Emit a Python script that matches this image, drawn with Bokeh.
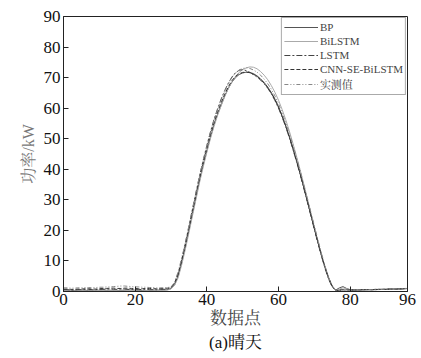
from bokeh.plotting import figure
from bokeh.models import Legend, LegendItem, FixedTicker, Range1d, Title
from bokeh.embed import file_html
from bokeh.resources import INLINE

x = list(range(0, 97))

bp = [0.5,0.4,0.4,0.3,0.3,0.4,0.4,0.3,0.3,0.4,0.4,0.5,0.4,0.4,0.3,0.3,0.4,0.4,0.5,0.5,0.4,0.4,0.3,0.3,0.4,0.4,0.4,0.5,0.5,0.6,
      1.0,2.2,5.0,9.5,14.5,20,25.5,31,36.5,41.5,46,50.5,54.5,58,61,64,66.5,68.5,70,71,71.5,71.8,71.7,71.3,70.6,69.6,68.4,66.9,65.1,63,60.5,57.6,54.4,50.9,47.1,43.1,38.9,34.5,30,25.4,20.8,16.3,12,8,4.5,1.8,0.5,
      1.2,1.6,1.0,0.6,0.5,0.5,0.5,0.6,0.6,0.6,0.6,0.7,0.7,0.7,0.8,0.8,0.8,0.9,0.9,1.0]

bilstm = [0.3,0.3,0.2,0.2,0.3,0.3,0.2,0.2,0.3,0.3,0.3,0.2,0.2,0.3,0.3,0.3,0.2,0.2,0.3,0.3,0.3,0.2,0.2,0.3,0.3,0.3,0.3,0.4,0.4,0.5,
          0.8,2.0,4.5,8.8,13.8,19.2,24.8,30.3,35.8,40.8,45.5,50,54,57.6,60.8,63.8,66.4,68.6,70.4,71.7,72.6,73.2,73.5,73.4,72.9,72,70.8,69.3,67.4,65.2,62.6,59.6,56.3,52.6,48.6,44.4,40,35.4,30.7,25.9,21.1,16.4,11.9,7.8,4.2,1.6,0.4,
          0.8,1.2,0.9,0.6,0.5,0.5,0.5,0.5,0.6,0.6,0.6,0.6,0.7,0.7,0.7,0.8,0.8,0.8,0.9,0.9]

lstm = [0.6,0.6,0.5,0.5,0.6,0.6,0.7,0.7,0.6,0.6,0.7,0.7,0.8,0.8,0.7,0.7,0.8,0.8,0.7,0.7,0.6,0.6,0.7,0.7,0.6,0.6,0.6,0.7,0.7,0.8,
        1.2,2.8,6.0,10.5,15.8,21.3,27,32.6,38,43,47.8,52.2,56.3,59.8,63,65.8,68.2,70.2,71.6,72.4,72.6,72.3,71.7,71,70.2,69.2,68,66.5,64.7,62.5,60,57.1,53.9,50.4,46.6,42.6,38.4,34,29.5,24.9,20.3,15.8,11.5,7.5,4,1.4,0.3,
        0.4,0.5,0.5,0.5,0.5,0.5,0.6,0.6,0.6,0.6,0.7,0.7,0.7,0.7,0.8,0.8,0.8,0.9,0.9,1.0]

cnn_se_bilstm = [0.8,0.8,0.7,0.7,0.8,0.8,0.9,0.9,0.8,0.8,0.9,1.0,1.0,1.1,1.1,1.0,1.0,1.1,1.1,1.0,1.0,0.9,0.9,1.0,1.0,0.9,0.9,1.0,1.0,1.1,
                 1.4,2.6,5.6,10.2,15.2,20.6,26.2,31.8,37.2,42.2,46.8,51.2,55.2,58.7,61.8,64.6,67,69,70.4,71.3,71.7,71.8,71.6,71.1,70.4,69.4,68.2,66.7,64.9,62.8,60.3,57.4,54.2,50.7,46.9,42.9,38.7,34.3,29.8,25.2,20.6,16.1,11.8,7.8,4.3,1.7,0.4,
                 0.5,0.6,0.6,0.5,0.5,0.5,0.6,0.6,0.6,0.6,0.6,0.7,0.7,0.7,0.8,0.8,0.8,0.8,0.9,1.0]

actual = [1.2,1.2,1.1,1.1,1.2,1.2,1.3,1.3,1.2,1.3,1.4,1.4,1.5,1.5,1.6,1.7,1.8,1.8,1.7,1.6,1.5,1.5,1.4,1.4,1.3,1.3,1.2,1.2,1.2,1.3,
          1.5,3,6.5,11,16,21.5,27,32.5,38,43,47.5,52,56,59.5,62.5,65.5,68,70,71.5,72.5,73,73.2,73,72.5,71.8,70.8,69.5,68,66.2,64,61.5,58.5,55.3,51.8,48,44,39.8,35.3,30.8,26.2,21.6,17,12.5,8.3,4.6,1.8,0.4,
          0.3,0.4,0.5,0.5,0.5,0.5,0.6,0.6,0.6,0.6,0.7,0.7,0.7,0.8,0.8,0.8,0.9,0.9,1.0,1.0]

series_names = ["BP", "BiLSTM", "LSTM", "CNN-SE-BiLSTM", "实测值"]
x_ticks = [0, 20, 40, 60, 80, 96]
y_ticks = [0, 10, 20, 30, 40, 50, 60, 70, 80, 90]

SERIF = "Liberation Serif, Noto Serif CJK SC, Noto Sans CJK SC"

p = figure(width=421, height=358, output_backend="svg", toolbar_location=None,
           x_range=Range1d(0, 96), y_range=Range1d(0, 90),
           min_border_left=63, min_border_right=14, min_border_top=16, min_border_bottom=67)
p.grid.visible = False
p.outline_line_color = "#222222"
p.outline_line_width = 1

styles = [
    dict(color="#555555", line_dash="solid", line_width=1),
    dict(color="#aaaaaa", line_dash="solid", line_width=1),
    dict(color="#444444", line_dash="6 2 2 2", line_width=1),
    dict(color="#333333", line_dash="4 2", line_width=1),
    dict(color="#888888", line_dash="4 2 1 2 1 2", line_width=1),
]
data = [bp, bilstm, lstm, cnn_se_bilstm, actual]
items = []
for name, ys, st in zip(series_names, data, styles):
    r = p.line(x, ys, line_color=st["color"], line_dash=st["line_dash"], line_width=st["line_width"])
    items.append(LegendItem(label=name, renderers=[r]))

legend = Legend(items=items, location="top_right", margin=1, padding=2, spacing=0,
                glyph_width=34, glyph_height=14, label_height=14, label_standoff=2,
                label_text_font=SERIF, label_text_font_size="11px",
                border_line_color="#555555", border_line_width=1,
                background_fill_alpha=1.0)
p.add_layout(legend)

for ax in (p.xaxis, p.yaxis):
    ax.major_tick_in = 5
    ax.major_tick_out = 0
    ax.minor_tick_in = 0
    ax.minor_tick_out = 0
    ax.axis_line_color = "#222222"
    ax.major_tick_line_color = "#222222"
    ax.major_label_text_font = SERIF
    ax.major_label_text_font_size = "17px"
    ax.major_label_text_color = "#111111"
    ax.axis_label_text_font = SERIF
    ax.axis_label_text_font_style = "normal"

p.xaxis.ticker = FixedTicker(ticks=x_ticks)
p.yaxis.ticker = FixedTicker(ticks=y_ticks)
p.xaxis.major_label_standoff = 2
p.yaxis.major_label_standoff = 3
p.xaxis.axis_label = "数据点"
p.xaxis.axis_label_text_font_size = "17px"
p.xaxis.axis_label_standoff = 1
p.yaxis.axis_label = "功率/kW"
p.yaxis.axis_label_text_font_size = "16px"
p.yaxis.axis_label_text_color = "#777777"
p.yaxis.axis_label_standoff = 4

cap = Title(text="(a)晴天", align="center", text_font=SERIF, text_font_size="17px",
            text_font_style="normal", text_color="#111111", standoff=0, offset=0)
p.add_layout(cap, "below")

open("out.html", "w").write(file_html(p, INLINE))
